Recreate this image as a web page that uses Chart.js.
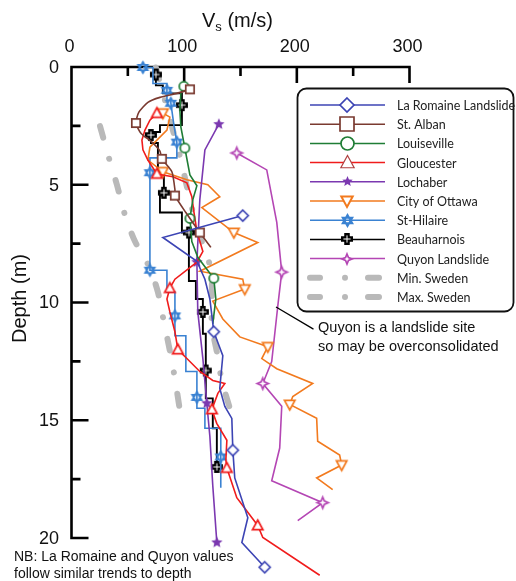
<!DOCTYPE html>
<html><head><meta charset="utf-8">
<script src="https://cdn.jsdelivr.net/npm/chart.js@4.4.1/dist/chart.umd.min.js"></script>
<style>html,body{margin:0;padding:0;background:#fff}canvas{display:block}</style>
</head><body>
<canvas id="c" width="516" height="581" style="width:516px;height:581px"></canvas>
<script>
// ---- Tick labels ----
const vsTicks = [0, 100, 200, 300];
const depthTicks = [0, 5, 10, 15, 20];
const vsMinorStep = 50;
const depthMinorStep = 2.5;

// ---- Series (Vs in m/s, depth in m) ----
const seriesNames = ["La Romaine Landslide","St. Alban","Louiseville","Gloucester","Lochaber","City of Ottawa","St-Hilaire","Beauharnois","Quyon Landslide","Min. Sweden","Max. Sweden"];

const laRomaineVs    = [152.0,81.1,111.3,118.4,122.8,126.3,134.3,131.6,136.1,142.3,143.2,144.9,156.5,151.2,171.5];
const laRomaineDepth = [6.31,7.24,8.25,9.01,9.85,11.24,12.26,13.65,14.41,14.92,16.27,17.45,19.14,20.19,21.24];

const stAlbanVs    = [105.1,93.5,78.5,67.8,59.8,57.2,61.6,71.4,78.5,80.2,89.1,91.8,91.8,101.5,113.9,123.7];
const stAlbanDepth = [0.95,1.12,1.29,1.50,1.92,2.38,2.81,3.19,3.57,3.90,4.45,5.21,5.46,6.18,7.03,7.66];

const louisevilleVs    = [99.7,97.1,96.2,97.1,100.6,105.1,111.3,107.7,105.1,106.8,112.1,120.1,126.3,128.1,125.4];
const louisevilleDepth = [0.82,1.12,1.84,2.55,3.44,4.58,5.04,5.63,6.43,7.41,8.08,8.59,8.97,9.85,10.91];

const gloucesterVs    = [75.8,69.6,65.2,62.5,63.4,67.8,75.8,90.0,102.4,106.8,108.6,111.3,116.6,111.3,91.8,87.3,84.7,87.3,91.8,94.4,102.4,113.9,125.4,136.1,129.9,124.6,128.9,137.9,137.0,137.9,146.7,165.3,169.8,220.3];
const gloucesterDepth = [1.96,2.26,2.68,3.10,3.52,3.95,4.54,4.66,4.92,5.51,6.14,6.98,7.83,8.29,9.01,9.39,9.85,10.40,11.24,12.00,12.38,12.93,13.31,13.44,13.86,14.54,15.13,15.85,16.69,17.03,18.29,19.47,19.98,21.58];

const lochaberVs    = [130.8,118.4,113.9,111.3,112.1,116.6,120.1,122.8,125.4,129.0];
const lochaberDepth = [2.43,3.52,5.63,8.29,10.40,12.38,14.28,15.68,17.78,20.19];

const ottawaVs    = [81.1,87.3,84.7,69.6,67.8,81.1,102.4,121.0,131.6,115.7,144.1,165.3,113.9,152.0,153.8,125.4,134.3,149.4,174.2,168.9,182.2,214.1,196.4,193.7,217.6,218.5,238.0,239.8,217.6,231.8];
const ottawaDepth = [1.96,2.13,2.68,3.40,3.95,4.45,4.79,5.00,5.51,5.97,7.03,7.45,8.67,9.01,9.43,9.94,10.70,11.46,11.88,12.38,12.81,13.44,13.99,14.33,14.92,15.89,16.48,16.90,17.45,17.95];

const stHilaireVs    = [63.4,72.3,72.3,84.7,84.7,84.7,88.2,88.2,90.9,93.5,93.5,69.6,69.6,69.6,84.7,84.7,91.8,91.8,91.8,101.5,101.5,111.3,111.3,111.3,118.4,118.4,132.5,132.5,132.5];
const stHilaireDepth = [0.02,0.02,0.70,0.70,0.99,1.41,1.41,1.54,2.47,3.19,3.86,3.86,4.49,8.63,8.63,9.56,9.56,10.57,11.41,11.41,12.93,12.93,14.03,14.49,14.49,15.34,15.34,16.56,17.87];

const beauharnoisVs    = [74.9,74.9,81.1,81.1,98,98,98,78.5,78.5,70.5,70.5,70.5,76.7,76.7,82,82,82,78.5,78.5,98,98,104.2,104.2,110.4,110.4,116.6,116.6,116.6,119.2,119.2,119.2,125.4,125.4,129,129];
const beauharnoisDepth = [0.32,0.78,0.78,1.12,1.12,1.62,2.47,2.47,2.76,2.76,2.89,3.23,3.23,4.45,4.45,5.34,5.46,5.46,6.18,6.18,7.03,7.03,9.09,9.09,9.85,9.85,10.40,11.33,11.33,12.89,14.07,14.07,15.34,15.34,16.98];

const quyonVs    = [146.7,173.3,182.2,186.6,183.1,177.7,169.8,186.6,184.8,177.7,223.0,200.8];
const quyonDepth = [3.65,4.37,6.60,8.71,10.15,12.51,13.44,14.41,16.18,17.57,18.50,19.26];

const minSwedenVs    = [25.3,33.2,40.3,47.4,56.3,68.7,76.7,82.0,87.3,91.8,96.2];
const minSwedenDepth = [2.51,3.86,5.00,6.27,7.40,8.46,9.56,10.82,12.05,13.23,14.58];
const maxSwedenVs    = [74.9,82.9,90.0,97.1,102.4,107.7,115.7,123.7,124.6,124.6,129.0,133.4,140.5];
const maxSwedenDepth = [0.02,1.41,2.68,3.95,5.08,6.14,7.41,8.59,9.72,10.99,12.09,13.31,14.49];

// which points carry a marker (style)
const laRomaineMarks = [0,5,10,14];
const stAlbanMarks = [0,5,9,12,14];
const louisevilleMarks = [0,4,8,12];
const gloucesterMarks = [0,6,15,19,25,29,31];
const lochaberMarks = [0,3,6,9];
const ottawaMarks = [0,5,10,14,18,23,27];
const stHilaireMarks = [0,4,7,9,12,13,17,22,27];
const beauharnoisMarks = [0,5,10,15,21,26,29,34];
const quyonMarks = [0,3,6,10];

const noteLines = ["Quyon is a landslide site", "so may be overconsolidated"];
const nbLines = ["NB: La Romaine and Quyon values", "follow similar trends to depth"];

// ---- marker images ----
function mk(type, color, r, lw) {
  lw = lw || 1.7;
  const s = Math.ceil(2 * r + 2 * lw + 2);
  const c = document.createElement('canvas'); c.width = s; c.height = s;
  const g = c.getContext('2d'); const cx = s / 2, cy = s / 2;
  g.strokeStyle = color; g.fillStyle = '#fff'; g.lineWidth = lw; g.lineJoin = 'miter';
  g.beginPath();
  const poly = (pts) => { pts.forEach((p, i) => i ? g.lineTo(p[0], p[1]) : g.moveTo(p[0], p[1])); g.closePath(); };
  const starPts = (n, ro, ri) => { const p = []; for (let i = 0; i < 2 * n; i++) { const a = -Math.PI / 2 + i * Math.PI / n; const rr = i % 2 ? ri : ro; p.push([cx + rr * Math.cos(a), cy + rr * Math.sin(a)]); } return p; };
  switch (type) {
    case 'diamond': poly([[cx, cy - r], [cx + r, cy], [cx, cy + r], [cx - r, cy]]); g.fill(); g.stroke(); break;
    case 'square': g.rect(cx - r, cy - r, 2 * r, 2 * r); g.fill(); g.stroke(); break;
    case 'circle': g.arc(cx, cy, r, 0, Math.PI * 2); g.fill(); g.stroke(); break;
    case 'triUp': poly([[cx, cy - r], [cx + r * 0.95, cy + r * 0.75], [cx - r * 0.95, cy + r * 0.75]]); g.fill(); g.stroke(); break;
    case 'triDown': poly([[cx, cy + r], [cx + r * 0.95, cy - r * 0.75], [cx - r * 0.95, cy - r * 0.75]]); g.fill(); g.stroke(); break;
    case 'star5': poly(starPts(5, r, r * 0.45)); g.fillStyle = color; g.fill(); break;
    case 'star4': poly(starPts(4, r, r * 0.42)); g.fill(); g.stroke(); break;
    case 'hexagram':
      poly([[cx, cy - r], [cx + 0.866 * r, cy + 0.5 * r], [cx - 0.866 * r, cy + 0.5 * r]]);
      g.moveTo(cx, cy + r); g.lineTo(cx + 0.866 * r, cy - 0.5 * r); g.lineTo(cx - 0.866 * r, cy - 0.5 * r); g.closePath();
      g.fill(); g.stroke(); break;
    case 'plus': {
      const w = r * 0.46;
      g.fillStyle = color; g.fillRect(cx - r, cy - w, 2 * r, 2 * w); g.fillRect(cx - w, cy - r, 2 * w, 2 * r);
      g.strokeStyle = '#fff'; g.lineWidth = 1; g.beginPath();
      g.moveTo(cx - r * 0.6, cy); g.lineTo(cx + r * 0.6, cy); g.moveTo(cx, cy - r * 0.6); g.lineTo(cx, cy + r * 0.6); g.stroke();
      break;
    }
  }
  return c;
}

const C = {
  romaine: '#3c44b4', alban: '#7a3a30', louis: '#1f7d35', glou: '#f01c1c', loch: '#7b38b0',
  ottawa: '#f27a1e', hil: '#3a82d2', beau: '#000000', quyon: '#b446b4', sweden: '#b9b9b9'
};

// image markers ignore radius for their size; radius only needs to be big enough
// that markers just below the depth-20 line are still drawn
const MARK_R = 34;

function series(label, vs, depth, color, marker, legendMarker, marks, extra) {
  return Object.assign({
    label: label,
    data: vs.map((v, i) => ({ x: v, y: depth[i] })),
    borderColor: color, backgroundColor: color, borderWidth: 1.6,
    showLine: true, fill: false, tension: 0, clip: false,
    pointStyle: marker, pointBorderWidth: 0,
    pointRadius: (ctx) => marks.includes(ctx.dataIndex) ? MARK_R : 0,
    pointHoverRadius: 0, pointHitRadius: 0,
    legendMarker: legendMarker, order: 1
  }, extra || {});
}

const swedenStyle = { borderWidth: 6, borderDash: [12, 22, 0.01, 22], borderCapStyle: 'round', tension: 0.3, order: 10 };

const datasets = [
  series(seriesNames[0], laRomaineVs, laRomaineDepth, C.romaine, mk('diamond', C.romaine, 5.5), mk('diamond', C.romaine, 7), laRomaineMarks),
  series(seriesNames[1], stAlbanVs, stAlbanDepth, C.alban, mk('square', C.alban, 4.2), mk('square', C.alban, 7), stAlbanMarks, { tension: 0.2 }),
  series(seriesNames[2], louisevilleVs, louisevilleDepth, C.louis, mk('circle', C.louis, 4.6), mk('circle', C.louis, 6.5), louisevilleMarks),
  series(seriesNames[3], gloucesterVs, gloucesterDepth, C.glou, mk('triUp', C.glou, 5.5), mk('triUp', '#b04040', 7, 1.2), gloucesterMarks),
  series(seriesNames[4], lochaberVs, lochaberDepth, C.loch, mk('star5', C.loch, 6), mk('star5', C.loch, 5.5), lochaberMarks),
  series(seriesNames[5], ottawaVs, ottawaDepth, C.ottawa, mk('triDown', C.ottawa, 5.5), mk('triDown', C.ottawa, 6, 2), ottawaMarks),
  series(seriesNames[6], stHilaireVs, stHilaireDepth, C.hil, mk('hexagram', C.hil, 5.5), mk('hexagram', C.hil, 5.5, 2), stHilaireMarks),
  series(seriesNames[7], beauharnoisVs, beauharnoisDepth, C.beau, mk('plus', C.beau, 6), mk('plus', C.beau, 6), beauharnoisMarks, { borderWidth: 1.9 }),
  series(seriesNames[8], quyonVs, quyonDepth, C.quyon, mk('star4', C.quyon, 5.5), mk('star4', C.quyon, 5), quyonMarks),
  Object.assign(series(seriesNames[9], minSwedenVs, minSwedenDepth, C.sweden, 'circle', null, []), swedenStyle, { isSweden: true }),
  Object.assign(series(seriesNames[10], maxSwedenVs, maxSwedenDepth, C.sweden, 'circle', null, []), swedenStyle, { isSweden: true })
];

const FONT = '"Liberation Sans", Arial, sans-serif';

const axesPlugin = {
  id: 'axesPlugin',
  beforeDatasetsDraw(chart) {
    const { ctx } = chart; const x = chart.scales.x, y = chart.scales.y;
    const x0 = x.getPixelForValue(vsTicks[0]), x1 = x.getPixelForValue(vsTicks[vsTicks.length - 1]);
    const y0 = y.getPixelForValue(depthTicks[0]), y1 = y.getPixelForValue(depthTicks[depthTicks.length - 1]);
    ctx.save();
    ctx.strokeStyle = '#000'; ctx.lineWidth = 2.6; ctx.lineCap = 'butt';
    ctx.beginPath();
    ctx.moveTo(x0 - 1.3, y0); ctx.lineTo(x1 + 1.3, y0);
    ctx.moveTo(x0, y0); ctx.lineTo(x0, y1 + 1.3);
    for (let v = vsTicks[0]; v <= vsTicks[vsTicks.length - 1] + 1e-9; v += vsMinorStep) {
      const px = x.getPixelForValue(v); const len = vsTicks.includes(v) ? 16 : 9;
      ctx.moveTo(px, y0); ctx.lineTo(px, y0 + len);
    }
    for (let d = depthTicks[0]; d <= depthTicks[depthTicks.length - 1] + 1e-9; d += depthMinorStep) {
      const py = y.getPixelForValue(d); const len = depthTicks.includes(d) ? 17 : 9;
      ctx.moveTo(x0, py); ctx.lineTo(x0 + len, py);
    }
    ctx.stroke();
    ctx.fillStyle = '#111'; ctx.font = '18px ' + FONT;
    ctx.textAlign = 'center'; ctx.textBaseline = 'middle';
    vsTicks.forEach(v => ctx.fillText(String(v), x.getPixelForValue(v) - 2, 47));
    ctx.textAlign = 'right';
    depthTicks.forEach(d => ctx.fillText(String(d), 59, y.getPixelForValue(d) + 1));
    // x title with subscript
    ctx.textAlign = 'left'; ctx.textBaseline = 'alphabetic';
    ctx.font = '20px ' + FONT; const wV = ctx.measureText('V').width;
    ctx.font = '13px ' + FONT; const wS = ctx.measureText('s').width;
    ctx.font = '20px ' + FONT; const wR = ctx.measureText(' (m/s)').width;
    const cxT = (x0 + x1) / 2 - 3; let sx = cxT - (wV + wS + wR) / 2; const by = 27;
    ctx.fillText('V', sx, by); sx += wV;
    ctx.font = '13px ' + FONT; ctx.fillText('s', sx, by + 4); sx += wS;
    ctx.font = '20px ' + FONT; ctx.fillText(' (m/s)', sx, by);
    // y title
    ctx.save(); ctx.translate(26, (y0 + y1) / 2 - 4); ctx.rotate(-Math.PI / 2);
    ctx.textAlign = 'center'; ctx.textBaseline = 'alphabetic'; ctx.font = '20px ' + FONT;
    ctx.fillText('Depth (m)', 0, 0); ctx.restore();
    ctx.restore();
  },
  afterDraw(chart) {
    const { ctx } = chart; const x = chart.scales.x, y = chart.scales.y;
    ctx.save();
    // legend box
    const L = 297.5, T = 88.5, R = 513.5, B = 311.5, rad = 9;
    ctx.beginPath();
    ctx.moveTo(L + rad, T); ctx.lineTo(R - rad, T); ctx.arcTo(R, T, R, T + rad, rad);
    ctx.lineTo(R, B - rad); ctx.arcTo(R, B, R - rad, B, rad); ctx.lineTo(L + rad, B);
    ctx.arcTo(L, B, L, B - rad, rad); ctx.lineTo(L, T + rad); ctx.arcTo(L, T, L + rad, T, rad); ctx.closePath();
    ctx.fillStyle = '#fff'; ctx.fill(); ctx.strokeStyle = '#111'; ctx.lineWidth = 1.8; ctx.stroke();
    chart.data.datasets.forEach((ds, i) => {
      const ry = 105 + i * 19.2;
      if (ds.isSweden) {
        ctx.strokeStyle = ds.borderColor; ctx.lineWidth = 6; ctx.lineCap = 'round';
        ctx.beginPath(); ctx.moveTo(310, ry); ctx.lineTo(320, ry); ctx.moveTo(368, ry); ctx.lineTo(379, ry); ctx.stroke();
        ctx.fillStyle = ds.borderColor; ctx.beginPath(); ctx.arc(345, ry, 3, 0, Math.PI * 2); ctx.fill();
      } else {
        ctx.strokeStyle = ds.borderColor; ctx.lineWidth = 1.5; ctx.lineCap = 'butt';
        ctx.beginPath(); ctx.moveTo(310, ry); ctx.lineTo(385, ry); ctx.stroke();
        const m = ds.legendMarker; ctx.drawImage(m, Math.round(347 - m.width / 2), Math.round(ry - m.height / 2));
      }
      ctx.fillStyle = '#222'; ctx.font = '12.5px Lato, "Open Sans", sans-serif';
      ctx.textAlign = 'left'; ctx.textBaseline = 'middle';
      ctx.fillText(ds.label, 397, ry + 1);
    });
    // annotation
    const ax0 = x.getPixelForValue(181.9), ay0 = y.getPixelForValue(10.2);
    const ax1 = x.getPixelForValue(214.4), ay1 = y.getPixelForValue(11.12);
    ctx.strokeStyle = '#000'; ctx.lineWidth = 1.3; ctx.beginPath(); ctx.moveTo(ax0, ay0); ctx.lineTo(ax1, ay1); ctx.stroke();
    ctx.fillStyle = '#111'; ctx.font = '14.5px ' + FONT; ctx.textAlign = 'left'; ctx.textBaseline = 'middle';
    ctx.fillText(noteLines[0], ax1 + 5, ay1 - 1);
    ctx.fillText(noteLines[1], ax1 + 5, ay1 + 18);
    // NB
    ctx.font = '14px ' + FONT;
    ctx.fillText(nbLines[0], 14, 557);
    ctx.fillText(nbLines[1], 14, 574);
    ctx.restore();
  }
};

new Chart(document.getElementById('c'), {
  type: 'scatter',
  data: { datasets: datasets },
  options: {
    responsive: false, animation: false, events: [],
    layout: { padding: { left: 71.5, top: 67, right: 106.5, bottom: 43 } },
    plugins: { legend: { display: false }, tooltip: { enabled: false } },
    scales: {
      x: { type: 'linear', min: 0, max: 300, display: false },
      y: { type: 'linear', min: 0, max: 20, reverse: true, display: false }
    }
  },
  plugins: [axesPlugin]
});
</script>
</body></html>
